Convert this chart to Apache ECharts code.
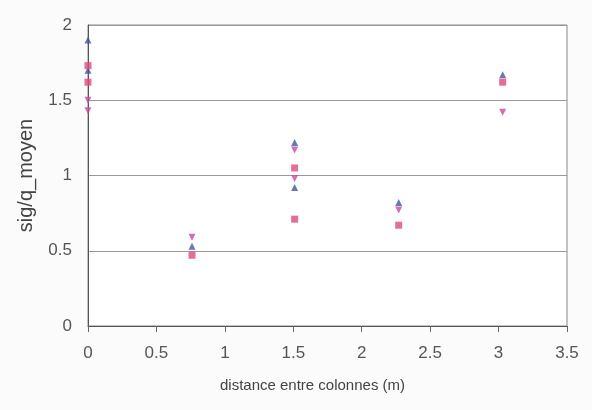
<!DOCTYPE html>
<html><head><meta charset="utf-8">
<script src="https://cdn.jsdelivr.net/npm/echarts@6/dist/echarts.min.js"></script>
<style>html,body{margin:0;padding:0;background:#fbfbfb}#c{width:592px;height:410px}</style>
</head><body><div id="c"></div>
<script>
var xTicks = [0, 0.5, 1, 1.5, 2, 2.5, 3, 3.5];
var yTicks = [0, 0.5, 1, 1.5, 2];
var seriesNames = ['triangle', 'carré', 'triangle inversé'];
var triUp = [[0,1.9],[0,1.7],[0.76,0.53],[1.51,1.22],[1.51,0.92],[2.27,0.82],[3.03,1.67]];
var squares = [[0,1.73],[0,1.62],[0.76,0.47],[1.51,1.05],[1.51,0.71],[2.27,0.67],[3.03,1.62]];
var triDown = [[0,1.5],[0,1.43],[0.76,0.59],[1.51,1.17],[1.51,0.98],[2.27,0.77],[3.03,1.42]];

var chart = echarts.init(document.getElementById('c'));
var font = 'Liberation Sans, Arial, sans-serif';
chart.setOption({
  backgroundColor: '#fbfbfb',
  animation: false,
  grid: {left: 88, right: 25, top: 25, bottom: 84, show: true, backgroundColor: '#ffffff', borderColor: '#888', borderWidth: 1},
  xAxis: {
    type: 'value', min: 0, max: 3.5, interval: 0.5,
    name: 'distance entre colonnes (m)', nameLocation: 'middle', nameGap: 52,
    nameTextStyle: {fontFamily: font, fontSize: 15, color: '#444', padding: [0, 30, 0, 0]},
    axisLine: {show: true, lineStyle: {color: '#555'}},
    axisTick: {show: true, length: 6, lineStyle: {color: '#666'}},
    axisLabel: {fontFamily: font, fontSize: 17, color: '#555', margin: 19,
      formatter: function(v){ return xTicks.indexOf(v) >= 0 ? String(v) : ''; }},
    splitLine: {show: false}
  },
  yAxis: {
    type: 'value', min: 0, max: 2, interval: 0.5,
    name: 'sig/q_moyen', nameLocation: 'middle', nameGap: 52, nameRotate: 90,
    nameTextStyle: {fontFamily: font, fontSize: 20, color: '#444'},
    axisLine: {show: true, lineStyle: {color: '#555'}},
    axisTick: {show: false},
    axisLabel: {fontFamily: font, fontSize: 17, color: '#555', margin: 16,
      formatter: function(v){ return yTicks.indexOf(v) >= 0 ? String(v) : ''; }},
    splitLine: {show: true, lineStyle: {color: '#999', width: 1}}
  },
  series: [
    {name: seriesNames[0], type: 'scatter', data: triUp, symbol: 'triangle', symbolSize: 7, itemStyle: {color: '#41599c'}},
    {name: seriesNames[1], type: 'scatter', data: squares, symbol: 'rect', symbolSize: 7, itemStyle: {color: '#e04a7c'}},
    {name: seriesNames[2], type: 'scatter', data: triDown, symbol: 'triangle', symbolRotate: 180, symbolSize: 7, itemStyle: {color: '#c84a9c'}}
  ]
});
</script></body></html>
